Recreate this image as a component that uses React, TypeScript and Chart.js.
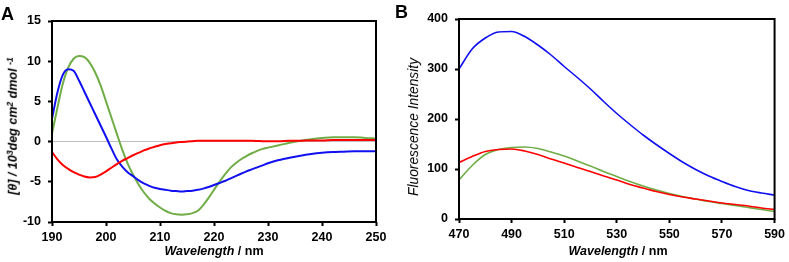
import React, { useEffect, useRef } from "react";
import { Chart, registerables } from "chart.js";

Chart.register(...registerables);

// ---------- Panel A: CD spectra ----------
const cdWavelengths = [
  190, 191, 192, 193, 194, 195, 196, 197, 198, 199, 200, 201, 202, 203, 204, 205, 206, 207, 208, 209,
  210, 211, 212, 213, 214, 215, 216, 217, 218, 219, 220, 221, 222, 223, 224, 225, 226, 227, 228, 229,
  230, 232, 234, 236, 238, 240, 242, 244, 246, 248, 250,
];
const cdBlue = [
  2.8, 6.1, 8.3, 9.0, 8.8, 7.6, 6.2, 4.8, 3.4, 2.0, 0.6, -0.85, -2.2, -3.1, -3.8, -4.3, -4.8, -5.2, -5.5, -5.75,
  -5.9, -6.0, -6.1, -6.15, -6.2, -6.15, -6.1, -6.0, -5.85, -5.65, -5.4, -5.15, -4.9, -4.6, -4.3, -4.0, -3.7, -3.45, -3.2, -2.95,
  -2.7, -2.3, -2.0, -1.75, -1.55, -1.4, -1.3, -1.25, -1.2, -1.2, -1.2,
];
const cdGreen = [
  1.0, 4.2, 7.2, 9.2, 10.3, 10.65, 10.5, 9.8, 8.6, 7.0, 5.0, 3.0, 1.0, -1.0, -2.7, -4.1, -5.3, -6.3, -7.1, -7.7,
  -8.2, -8.6, -8.9, -9.05, -9.1, -9.05, -8.9, -8.6, -7.9, -7.0, -6.0, -5.0, -4.1, -3.3, -2.7, -2.2, -1.8, -1.45, -1.15, -0.9,
  -0.75, -0.45, -0.15, 0.1, 0.3, 0.45, 0.55, 0.55, 0.55, 0.45, 0.4,
];
const cdRed = [
  -1.3, -2.2, -2.9, -3.4, -3.8, -4.1, -4.35, -4.45, -4.4, -4.1, -3.7, -3.25, -2.8, -2.4, -2.05, -1.7, -1.4, -1.1, -0.85, -0.65,
  -0.45, -0.3, -0.2, -0.1, -0.05, 0.0, 0.05, 0.1, 0.1, 0.1, 0.1, 0.1, 0.1, 0.1, 0.1, 0.1, 0.1, 0.1, 0.08, 0.05,
  0.05, 0.05, 0.1, 0.1, 0.15, 0.15, 0.2, 0.2, 0.2, 0.2, 0.2,
];
const cdXTicks = [190, 200, 210, 220, 230, 240, 250];
const cdYTicks = [-10, -5, 0, 5, 10, 15];

// ---------- Panel B: fluorescence spectra ----------
const flWavelengths = [
  470, 475, 480, 485, 490, 495, 500, 505, 510, 515, 520, 525, 530, 535, 540, 545, 550, 555, 560, 565, 570, 575, 580, 585, 590,
];
const flBlue = [
  300, 340, 362, 374, 375, 365, 348, 328, 305, 283, 260, 235, 211, 189, 168, 149, 131, 114, 99, 86, 75, 65, 57, 52, 48,
];
const flRed = [
  113, 125, 135, 139, 140, 136, 129, 120, 112, 103, 95, 86, 78, 69, 62, 55, 49, 44, 40, 36, 32, 29, 26, 22, 19,
];
const flGreen = [
  78, 107, 129, 139, 143, 144, 141, 134, 126, 116, 106, 95, 85, 75, 66, 58, 51, 45, 40, 35, 31, 27, 23, 19, 15,
];
const flXTicks = [470, 490, 510, 530, 550, 570, 590];
const flYTicks = [0, 100, 200, 300, 400];

const BLUE = "#1010f0";
const RED = "#ff0000";
const GREEN = "#70ad47";
const FONT = "'Liberation Sans', Arial, sans-serif";

const framePlugin = {
  id: "frame",
  afterDraw(chart: any) {
    const { ctx, chartArea } = chart;
    ctx.save();
    ctx.strokeStyle = "#000";
    ctx.lineWidth = 2;
    ctx.strokeRect(chartArea.left, chartArea.top, chartArea.right - chartArea.left, chartArea.bottom - chartArea.top);
    ctx.restore();
  },
};

function toPoints(xs: number[], ys: number[]) {
  return xs.map((x, i) => ({ x, y: ys[i] }));
}

type PanelCfg = {
  width: number;
  height: number;
  xs: number[];
  series: { data: number[]; color: string }[];
  xTicks: number[];
  yTicks: number[];
  pad: { top: number; right: number };
  yWidth: number;
  xHeight: number;
  lineWidth: number;
  zeroLine: boolean;
};

function Panel(props: { cfg: PanelCfg; style: React.CSSProperties }) {
  const ref = useRef<HTMLCanvasElement | null>(null);
  const { cfg } = props;
  useEffect(() => {
    if (!ref.current) return;
    const xMin = cfg.xTicks[0];
    const xMax = cfg.xTicks[cfg.xTicks.length - 1];
    const yMin = cfg.yTicks[0];
    const yMax = cfg.yTicks[cfg.yTicks.length - 1];
    const chart = new Chart(ref.current, {
      type: "line",
      data: {
        datasets: cfg.series.map((s) => ({
          data: toPoints(cfg.xs, s.data),
          borderColor: s.color,
          borderWidth: cfg.lineWidth,
          pointRadius: 0,
          cubicInterpolationMode: "monotone" as const,
          fill: false,
        })),
      },
      options: {
        animation: false,
        responsive: false,
        maintainAspectRatio: false,
        layout: { padding: { top: cfg.pad.top, right: cfg.pad.right, left: 0, bottom: 0 } },
        plugins: { legend: { display: false }, tooltip: { enabled: false } },
        scales: {
          x: {
            type: "linear",
            min: xMin,
            max: xMax,
            afterBuildTicks: (axis: any) => {
              axis.ticks = cfg.xTicks.map((v) => ({ value: v }));
            },
            afterFit: (axis: any) => {
              axis.height = cfg.xHeight;
            },
            border: { display: false },
            grid: {
              drawOnChartArea: false,
              drawTicks: true,
              tickLength: 4,
              tickWidth: 2,
              tickColor: "#000",
            },
            ticks: {
              padding: 4,
              maxRotation: 0,
              autoSkip: false,
              color: "#000",
              font: { family: FONT, size: 12.5, weight: "bold" },
            },
          },
          y: {
            type: "linear",
            min: yMin,
            max: yMax,
            afterBuildTicks: (axis: any) => {
              axis.ticks = cfg.yTicks.map((v) => ({ value: v }));
            },
            afterFit: (axis: any) => {
              axis.width = cfg.yWidth;
            },
            border: { display: false },
            grid: {
              drawOnChartArea: cfg.zeroLine,
              drawTicks: true,
              tickLength: 4,
              tickWidth: 2,
              tickColor: "#000",
              lineWidth: 1,
              color: (c: any) => (c.tick && c.tick.value === 0 ? "#c0c0c0" : "rgba(0,0,0,0)"),
            },
            ticks: {
              padding: 7,
              autoSkip: false,
              color: "#000",
              font: { family: FONT, size: 12.5, weight: "bold" },
            },
          },
        },
      },
      plugins: [framePlugin],
    } as any);
    return () => chart.destroy();
  }, []);
  return (
    <canvas
      ref={ref}
      width={cfg.width}
      height={cfg.height}
      style={{ position: "absolute", width: cfg.width, height: cfg.height, ...props.style }}
    />
  );
}

const supStyle: React.CSSProperties = {
  fontSize: "0.7em",
  position: "relative",
  top: "-0.45em",
  verticalAlign: "baseline",
};

export default function App() {
  const cfgA: PanelCfg = {
    width: 395,
    height: 262,
    xs: cdWavelengths,
    series: [
      { data: cdRed, color: RED },
      { data: cdBlue, color: BLUE },
      { data: cdGreen, color: GREEN },
    ],
    xTicks: cdXTicks,
    yTicks: cdYTicks,
    pad: { top: 21, right: 19 },
    yWidth: 52,
    xHeight: 40,
    lineWidth: 2,
    zeroLine: true,
  };
  const cfgB: PanelCfg = {
    width: 389,
    height: 262,
    xs: flWavelengths,
    series: [
      { data: flBlue, color: BLUE },
      { data: flRed, color: RED },
      { data: flGreen, color: GREEN },
    ],
    xTicks: flXTicks,
    yTicks: flYTicks,
    pad: { top: 19, right: 12 },
    yWidth: 59,
    xHeight: 43,
    lineWidth: 1.6,
    zeroLine: false,
  };

  const rotTitle = (cx: number, cy: number): React.CSSProperties => ({
    position: "absolute",
    left: cx,
    top: cy,
    transform: "translate(-50%, -50%) rotate(-90deg)",
    whiteSpace: "nowrap",
    fontFamily: FONT,
    color: "#000",
    lineHeight: 1,
  });
  const xTitle = (cx: number): React.CSSProperties => ({
    position: "absolute",
    left: cx,
    top: 251,
    transform: "translate(-50%, -50%)",
    whiteSpace: "nowrap",
    fontFamily: FONT,
    fontWeight: "bold",
    fontSize: 12.5,
    color: "#000",
    lineHeight: 1,
  });
  const letter = (l: number, t: number): React.CSSProperties => ({
    position: "absolute",
    left: l,
    top: t,
    fontFamily: FONT,
    fontWeight: "bold",
    fontSize: 18,
    lineHeight: 1,
    color: "#000",
  });

  return (
    <div style={{ position: "absolute", left: 0, top: 0, width: 789, height: 262, background: "#fff", overflow: "hidden" }}>
      <Panel cfg={cfgA} style={{ left: 0, top: 0 }} />
      <Panel cfg={cfgB} style={{ left: 400, top: 0 }} />
      <div style={letter(1, 5)}>A</div>
      <div style={letter(395, 3)}>B</div>
      <div style={{ ...rotTitle(13, 126), fontWeight: "bold", fontStyle: "italic", fontSize: 12.5 }}>
        [θ] / 10<span style={supStyle}>3</span>deg cm<span style={supStyle}>2</span> dmol <span style={supStyle}>-1</span>
      </div>
      <div style={{ ...rotTitle(414, 127), fontStyle: "italic", fontSize: 13.8 }}>Fluorescence Intensity</div>
      <div style={xTitle(214)}>
        <i>Wavelength</i> / nm
      </div>
      <div style={xTitle(618)}>
        <i>Wavelength</i> / nm
      </div>
    </div>
  );
}
